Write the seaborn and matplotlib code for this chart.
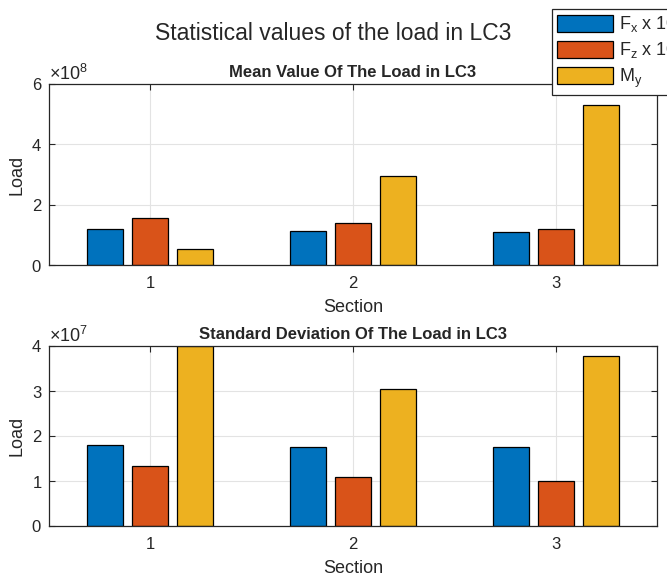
import numpy as np
import pandas as pd
import matplotlib
matplotlib.use("Agg")
import matplotlib.pyplot as plt
import seaborn as sns

sections = ["1", "2", "3"]
series = ["F$_{x}$ x 10", "F$_{z}$ x 10", "M$_{y}$"]

mean_fx = [1.18e8, 1.14e8, 1.09e8]
mean_fz = [1.55e8, 1.39e8, 1.20e8]
mean_my = [0.53e8, 2.94e8, 5.30e8]

std_fx = [1.79e7, 1.76e7, 1.76e7]
std_fz = [1.33e7, 1.09e7, 1.00e7]
std_my = [3.99e7, 3.05e7, 3.78e7]

colors = ["#0072BD", "#D95319", "#EDB120"]

sns.set_style("ticks")
plt.rcParams["font.family"] = ["Liberation Sans", "DejaVu Sans"]
plt.rcParams["mathtext.fontset"] = "custom"
plt.rcParams["mathtext.rm"] = "Liberation Sans"
plt.rcParams["mathtext.it"] = "Liberation Sans"
plt.rcParams["mathtext.default"] = "regular"


def long_frame(fx, fz, my):
    rows = []
    for name, vals in zip(series, [fx, fz, my]):
        for s, v in zip(sections, vals):
            rows.append({"Section": s, "Series": name, "Load": v})
    return pd.DataFrame(rows)


df_mean = long_frame(mean_fx, mean_fz, mean_my)
df_std = long_frame(std_fx, std_fz, std_my)

fig = plt.figure(figsize=(6.67, 5.8), dpi=100)
ax1 = fig.add_axes([49 / 667, 1 - 265 / 580, 608 / 667, 181 / 580])
ax2 = fig.add_axes([49 / 667, 1 - 526 / 580, 608 / 667, 180 / 580])

axis_col = "#262626"


def draw(ax, df, title, ylim, yticks):
    sns.barplot(data=df, x="Section", y="Load", hue="Series", order=sections,
                hue_order=series, palette=colors, width=2 / 3, gap=0.2,
                edgecolor="black", linewidth=0.9, saturation=1, ax=ax,
                legend=False, errorbar=None)
    ax.set_xlim(-0.5, 2.5)
    ax.set_ylim(*ylim)
    ax.set_yticks(yticks)
    ax.ticklabel_format(axis="y", style="sci", scilimits=(0, 0), useMathText=True)
    ax.yaxis.get_offset_text().set_fontsize(13)
    ax.yaxis.get_offset_text().set_color(axis_col)
    ax.set_axisbelow(True)
    ax.grid(True, color="#e3e3e3", linewidth=0.8)
    ax.tick_params(direction="in", length=4, width=0.8, colors=axis_col,
                   labelsize=12, top=True, right=True)
    ax.tick_params(axis="x", pad=8)
    ax.tick_params(axis="y", pad=5)
    for sp in ax.spines.values():
        sp.set_visible(True)
        sp.set_color(axis_col)
        sp.set_linewidth(0.9)
    ax.set_xlabel("Section", fontsize=13, color=axis_col, labelpad=6)
    ax.set_ylabel("Load", fontsize=13, color=axis_col, labelpad=4)
    ax.set_title(title, fontsize=12, fontweight="bold", pad=5)


draw(ax1, df_mean, "Mean Value Of The Load in LC3", (0, 6e8), [0, 2e8, 4e8, 6e8])
draw(ax2, df_std, "Standard Deviation Of The Load in LC3", (0, 4e7),
     [0, 1e7, 2e7, 3e7, 4e7])

fig.suptitle("Statistical values of the load in LC3", fontsize=16.5, y=1 - 33 / 580,
             va="center")

handles = [plt.Rectangle((0, 0), 1, 1, facecolor=c, edgecolor="black", linewidth=0.9)
           for c in colors]
leg = fig.legend(handles, series, loc="upper left",
                 bbox_to_anchor=(552 / 667, 1 - 9 / 580), fontsize=13,
                 handlelength=3.1, handleheight=1.1, labelspacing=0.33,
                 borderpad=0.3, handletextpad=0.3, borderaxespad=0,
                 fancybox=False, framealpha=1, edgecolor=axis_col)
leg.get_frame().set_linewidth(0.9)

fig.savefig("out.png", dpi=100)
